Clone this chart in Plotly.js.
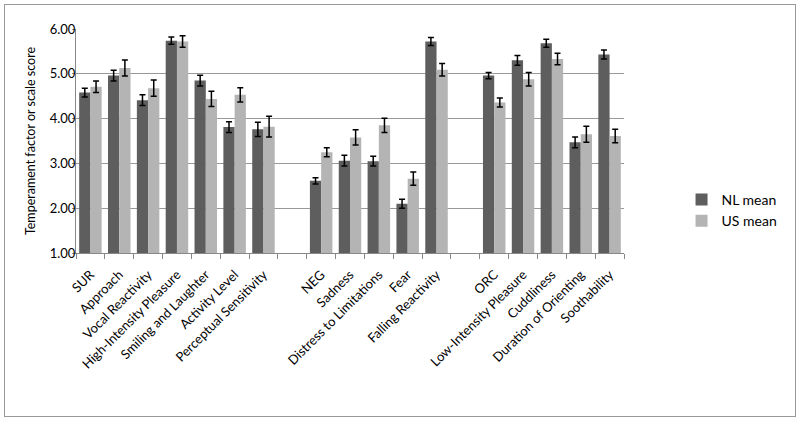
<!DOCTYPE html>
<html>
<head>
<meta charset="utf-8">
<script src="https://cdn.plot.ly/plotly-3.0.1.min.js"></script>
<style>
  body { margin: 0; background: #fff; }
  #frame { position: absolute; left: 4px; top: 4px; width: 790px; height: 411px; border: 1px solid #999; }
  #chart { width: 790px; height: 411px; }
</style>
</head>
<body>
<div id="frame"><div id="chart"></div></div>
<script>
// categories (blank entries are the gaps between groups)
let categories = ['SUR', 'Approach', 'Vocal Reactivity', 'High-Intensity Pleasure', 'Smiling and Laughter',
    'Activity Level', 'Perceptual Sensitivity', ' ',
    'NEG', 'Sadness', 'Distress to Limitations', 'Fear', 'Falling Reactivity', '  ',
    'ORC', 'Low-Intensity Pleasure', 'Cuddliness', 'Duration of Orienting', 'Soothability'];

let nlMean = [4.58, 4.96, 4.41, 5.74, 4.85, 3.81, 3.76, null,
    2.61, 3.06, 3.05, 2.10, 5.72, null,
    4.96, 5.30, 5.68, 3.47, 5.43];
let nlErr = [0.10, 0.12, 0.12, 0.08, 0.12, 0.12, 0.16, null,
    0.07, 0.12, 0.11, 0.10, 0.09, null,
    0.07, 0.11, 0.09, 0.12, 0.10];

let usMean = [4.71, 5.13, 4.68, 5.72, 4.44, 4.53, 3.82, null,
    3.25, 3.58, 3.85, 2.66, 5.09, null,
    4.36, 4.88, 5.33, 3.65, 3.61];
let usErr = [0.13, 0.18, 0.18, 0.13, 0.17, 0.16, 0.23, null,
    0.10, 0.17, 0.16, 0.15, 0.14, null,
    0.10, 0.15, 0.13, 0.18, 0.15];

let yTicks = [1, 2, 3, 4, 5, 6];

let errStyle = (arr) => ({ type: 'data', array: arr, visible: true, color: '#000', thickness: 1.5, width: 3 });

let data = [
    {
        x: categories, y: nlMean, type: 'bar', name: 'NL mean',
        marker: { color: '#5e5e5e' },
        error_y: errStyle(nlErr)
    },
    {
        x: categories, y: usMean, type: 'bar', name: 'US mean',
        marker: { color: '#b4b4b4' },
        error_y: errStyle(usErr)
    }
];

let layout = {
    width: 790, height: 411,
    margin: { l: 71, r: 117, t: 24, b: 163 },
    paper_bgcolor: '#fff', plot_bgcolor: '#fff',
    font: { family: 'Lato, "Open Sans", sans-serif', size: 13, color: '#000' },
    barmode: 'group', bargap: 0.22, bargroupgap: 0,
    showlegend: true,
    legend: { x: 1.105, y: 0.19, xanchor: 'left', yanchor: 'middle', font: { size: 14 } },
    xaxis: {
        type: 'category', categoryorder: 'array', categoryarray: categories,
        tickangle: -45, tickson: 'boundaries', ticks: 'outside', ticklen: 5, tickcolor: '#888',
        showline: true, linecolor: '#888', showgrid: false,
        ticklabelstandoff: 8,
        tickfont: { size: 13 }
    },
    yaxis: {
        range: [1, 6], tickvals: yTicks, tickformat: '.2f',
        showgrid: true, gridcolor: '#999', ticks: 'outside', ticklen: 3, tickcolor: '#888',
        showline: true, linecolor: '#888', zeroline: false,
        ticklabelstandoff: -6,
        title: { text: 'Temperament factor or scale score', font: { size: 12.5 }, standoff: 11 },
        tickfont: { size: 13 }
    }
};

Plotly.newPlot('chart', data, layout, { displayModeBar: false });
</script>
</body>
</html>
